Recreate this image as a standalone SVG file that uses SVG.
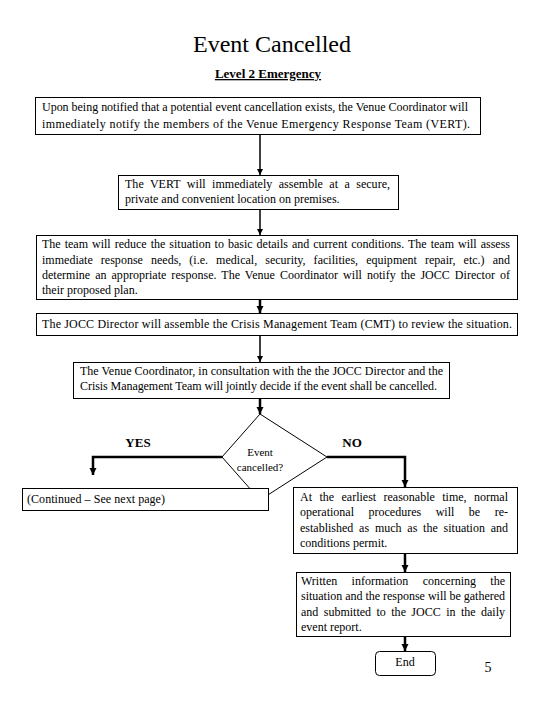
<svg xmlns="http://www.w3.org/2000/svg" width="540" height="720" viewBox="0 0 540 720" font-family="'Liberation Serif', 'Times New Roman', 'DejaVu Serif', serif">
<style>
text{font-family:"Liberation Serif","Times New Roman","DejaVu Serif",serif;fill:#000}
.t{font-size:12px}
.box{fill:#fff;stroke:#000;stroke-width:1}
.c{fill:none;stroke:#000;stroke-width:1.5}
.ck{fill:none;stroke:#000;stroke-width:2.5}
</style>
<defs>
<marker id="ah" viewBox="0 0 10 10" refX="10" refY="5" markerWidth="4" markerHeight="4" markerUnits="strokeWidth" orient="auto"><path d="M0,0 L10,5 L0,10 z" fill="#000"/></marker>
<marker id="ahk" viewBox="0 0 10 10" refX="10" refY="5" markerWidth="3" markerHeight="3" markerUnits="strokeWidth" orient="auto"><path d="M0,0 L10,5 L0,10 z" fill="#000"/></marker>
</defs>
<rect width="540" height="720" fill="#fff"/>
<text x="272" y="52" text-anchor="middle" font-size="24">Event Cancelled</text>
<text x="268" y="78" text-anchor="middle" font-size="13" font-weight="bold" text-decoration="underline">Level 2 Emergency</text>

<g id="connectors">
<line class="c" x1="260" y1="134" x2="260" y2="175" marker-end="url(#ah)"/>
<line class="c" x1="260" y1="209" x2="260" y2="235" marker-end="url(#ah)"/>
<line class="ck" x1="260" y1="286" x2="260" y2="313" marker-end="url(#ahk)"/>
<line class="c" x1="260" y1="335" x2="260" y2="362" marker-end="url(#ah)"/>
<line class="ck" x1="260" y1="398" x2="260" y2="414" marker-end="url(#ahk)"/>
<polyline class="ck" points="222,457 93,457 93,475" marker-end="url(#ahk)"/>
<polyline class="ck" points="327,457 405,457 405,487" marker-end="url(#ahk)"/>
<line class="ck" x1="405" y1="553" x2="405" y2="572" marker-end="url(#ahk)"/>
<line class="ck" x1="405" y1="636" x2="405" y2="651" marker-end="url(#ahk)"/>
</g>

<g id="n1">
<rect class="box" x="35.5" y="97.5" width="445" height="37"/>
<text class="t" x="42" y="111" textLength="426" lengthAdjust="spacing">Upon being notified that a potential event cancellation exists, the Venue Coordinator will</text>
<text class="t" x="42" y="128" textLength="428" lengthAdjust="spacing">immediately notify the members of the Venue Emergency Response Team (VERT).</text>
</g>
<g id="n2">
<rect class="box" x="118.5" y="175.5" width="280" height="34"/>
<text class="t" x="125" y="188" word-spacing="3.4" textLength="265" lengthAdjust="spacing">The VERT will immediately assemble at a secure,</text>
<text class="t" x="125" y="203">private and convenient location on premises.</text>
</g>
<g id="n3">
<rect class="box" x="36.5" y="235.5" width="481" height="64" fill="none"/>
<text class="t" x="42" y="248" word-spacing="1" textLength="468" lengthAdjust="spacing">The team will reduce the situation to basic details and current conditions. The team will assess</text>
<text class="t" x="42" y="264" word-spacing="5" textLength="468" lengthAdjust="spacing">immediate response needs, (i.e. medical, security, facilities, equipment repair, etc.) and</text>
<text class="t" x="42" y="279" word-spacing="2" textLength="468" lengthAdjust="spacing">determine an appropriate response. The Venue Coordinator will notify the JOCC Director of</text>
<text class="t" x="42" y="294">their proposed plan.</text>
</g>
<g id="n4">
<rect class="box" x="36.5" y="313.5" width="481" height="22"/>
<text class="t" x="42" y="328" textLength="470" lengthAdjust="spacing">The JOCC Director will assemble the Crisis Management Team (CMT) to review the situation.</text>
</g>
<g id="n5">
<rect class="box" x="73.5" y="362.5" width="376" height="36"/>
<text class="t" x="80" y="375" textLength="363" lengthAdjust="spacing">The Venue Coordinator, in consultation with the the JOCC Director and the</text>
<text class="t" x="80" y="390" textLength="357" lengthAdjust="spacing">Crisis Management Team will jointly decide if the event shall be cancelled.</text>
</g>
<g id="decision">
<polygon points="260,414 327,457 260,500 222,457" fill="#fff" stroke="#000" stroke-width="1"/>
<text x="260" y="456" text-anchor="middle" font-size="11">Event</text>
<text x="260" y="471" text-anchor="middle" font-size="11">cancelled?</text>
</g>
<text x="138" y="447" text-anchor="middle" font-size="13" font-weight="bold">YES</text>
<text x="352" y="447" text-anchor="middle" font-size="13" font-weight="bold">NO</text>
<g id="continued">
<rect class="box" x="22.5" y="488.5" width="246" height="22"/>
<text class="t" x="27" y="503" textLength="138" lengthAdjust="spacing">(Continued – See next page)</text>
</g>
<g id="n6">
<rect class="box" x="293.5" y="487.5" width="224" height="66"/>
<text class="t" x="300" y="501" word-spacing="4.4" textLength="208" lengthAdjust="spacing">At the earliest reasonable time, normal</text>
<text class="t" x="300" y="516" word-spacing="11.5" textLength="208" lengthAdjust="spacing">operational procedures will be re-</text>
<text class="t" x="300" y="532" word-spacing="2.8" textLength="208" lengthAdjust="spacing">established as much as the situation and</text>
<text class="t" x="300" y="547">conditions permit.</text>
</g>
<g id="n7">
<rect class="box" x="296.5" y="572.5" width="214" height="64"/>
<text class="t" x="301" y="585" word-spacing="11.3" textLength="204" lengthAdjust="spacing">Written information concerning the</text>
<text class="t" x="301" y="600" textLength="204" lengthAdjust="spacing">situation and the response will be gathered</text>
<text class="t" x="301" y="616" word-spacing="2.4" textLength="204" lengthAdjust="spacing">and submitted to the JOCC in the daily</text>
<text class="t" x="301" y="631">event report.</text>
</g>
<g id="end">
<rect class="box" x="375.5" y="651.5" width="60" height="24" rx="4"/>
<text class="t" x="405" y="666" text-anchor="middle">End</text>
</g>
<text x="488" y="672" text-anchor="middle" font-size="14">5</text>
</svg>
